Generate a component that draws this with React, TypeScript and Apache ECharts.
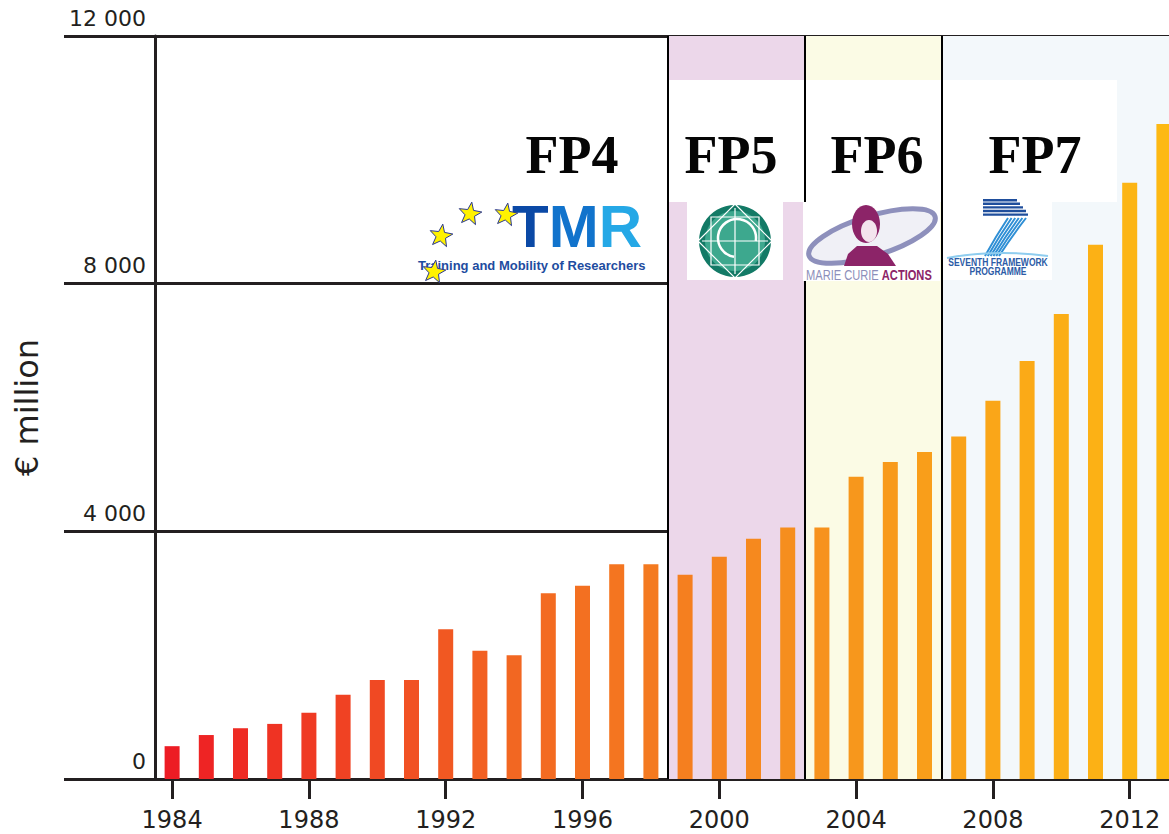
import React, { useEffect, useRef } from 'react';
import * as echarts from 'echarts';

// ---------- data ----------
const years = [
  '1984', '1985', '1986', '1987', '1988', '1989', '1990', '1991', '1992', '1993',
  '1994', '1995', '1996', '1997', '1998', '1999', '2000', '2001', '2002', '2003',
  '2004', '2005', '2006', '2007', '2008', '2009', '2010', '2011', '2012', '2013',
];
const budget = [
  530, 710, 820, 890, 1070, 1360, 1600, 1600, 2420, 2070,
  2000, 3000, 3120, 3470, 3470, 3300, 3590, 3880, 4060, 4060,
  4880, 5120, 5280, 5530, 6110, 6750, 7510, 8630, 9630, 10580,
];
const yTicks = [0, 4000, 8000, 12000];
const programmes = ['FP4', 'FP5', 'FP6', 'FP7'];
const programmeFirstYear = ['1994', '1999', '2003', '2007'];
const programmeLastYear = ['1998', '2002', '2006', '2013'];
const yAxisTitle = '€ million';
const tmrLetters = ['T', 'M', 'R'];
const tmrCaption = 'Training and Mobility of Researchers';
const mcaWords = ['MARIE CURIE ', 'ACTIONS'];
const fp7Caption = ['SEVENTH FRAMEWORK', 'PROGRAMME'];

// ---------- styles ----------
const INK = '#231f20';
const barRamp = ['#ed1c24', '#f26522', '#f7941d', '#fdb913'];
const bandColors = ['', '#ecd7ea', '#fbfbe5', '#f3f8fb'];
const headingX = [572, 731, 877, 1035];
const tmrColors = ['#0b49a6', '#1173cc', '#25a8e6'];

const fmtThousands = (v: number) => String(v).replace(/\B(?=(\d{3})+(?!\d))/g, ' ');

function starPts(cx: number, cy: number, r: number, rot = 0) {
  const pts: number[][] = [];
  for (let i = 0; i < 10; i++) {
    const a = -Math.PI / 2 + rot + (i * Math.PI) / 5;
    const rr = i % 2 ? r * 0.42 : r;
    pts.push([cx + rr * Math.cos(a), cy + rr * Math.sin(a)]);
  }
  return pts;
}

function txt(text: string, x: number, y: number, font: string, fill: string, align = 'center', vAlign = 'middle', extra: any = {}, styleExtra: any = {}) {
  return {
    type: 'text',
    x,
    y,
    z: 7,
    ...extra,
    style: {
      text,
      font,
      fill,
      align,
      verticalAlign: vAlign,
      textAlign: align,
      textVerticalAlign: vAlign,
      ...styleExtra,
    },
  };
}

function buildGraphics() {
  const g: any[] = [];
  const white = (x: number, y: number, w: number, h: number, z = 3) =>
    g.push({ type: 'rect', z, shape: { x, y, width: w, height: h }, style: { fill: '#ffffff' } });

  // white panels behind headings & logos
  white(668, 80, 449, 122);
  white(687, 202, 96, 78);
  white(943, 202, 109, 78);
  white(417, 200, 233, 81);
  white(803, 202, 137, 79, 6);

  // headings
  programmes.forEach((p, i) => {
    g.push(txt(p, headingX[i], 155, 'bold 54px "Liberation Serif", "Times New Roman", serif', '#050505', 'center', 'middle', {}, { lineHeight: 40 }));
  });

  // ---- TMR logo ----
  const tmrFont = '"Liberation Sans", Arial, sans-serif';
  const tmrRich: any = {};
  tmrLetters.forEach((l, i) => {
    tmrRich['l' + i] = { fontSize: 60, fontWeight: 'bold', fontFamily: tmrFont, lineHeight: 42, color: tmrColors[i], fill: tmrColors[i] };
  });
  g.push({
    type: 'text', x: 577, y: 226, z: 7,
    style: {
      text: tmrLetters.map((l, i) => `{l${i}|${l}}`).join(''),
      align: 'center', verticalAlign: 'middle', textAlign: 'center', textVerticalAlign: 'middle',
      rich: tmrRich,
    },
  });
  g.push(txt(tmrCaption, 418, 265, 'bold 13px "Liberation Sans", Arial, sans-serif', '#1e4ca0', 'left', 'middle', {}, { lineHeight: 12 }));
  [[441, 236], [470, 214], [506, 215], [434, 272]].forEach(([cx, cy]) => {
    g.push({ type: 'polygon', z: 8, shape: { points: starPts(cx, cy, 12, 0.15) }, style: { fill: '#fff200', stroke: '#2b3990', lineWidth: 1 } });
  });

  // ---- FP5 logo ----
  g.push({ type: 'circle', z: 7, shape: { cx: 735, cy: 241, r: 36 }, style: { fill: '#137a66' } });
  g.push({ type: 'circle', z: 7, shape: { cx: 735, cy: 241, r: 30 }, style: { fill: '#3da88e' } });
  const ws = { stroke: '#ffffff', lineWidth: 1.2, fill: 'none' };
  g.push({ type: 'polygon', z: 8, shape: { points: [[735, 204], [772, 241], [735, 278], [698, 241]] }, style: ws });
  g.push({ type: 'polygon', z: 8, shape: { points: [[711, 217], [759, 217], [759, 265], [711, 265]] }, style: ws });
  g.push({ type: 'line', z: 8, shape: { x1: 735, y1: 208, x2: 735, y2: 274 }, style: ws });
  g.push({ type: 'line', z: 8, shape: { x1: 702, y1: 241, x2: 768, y2: 241 }, style: ws });
  g.push({ type: 'arc', z: 8, shape: { cx: 737, cy: 238, r: 19, startAngle: Math.PI * 0.55, endAngle: Math.PI * 2.05 }, style: { stroke: '#ffffff', lineWidth: 2.5, fill: 'none' } });

  // ---- Marie Curie logo ----
  g.push({ type: 'ellipse', z: 7, x: 872, y: 236, rotation: 0.3, shape: { cx: 0, cy: 0, rx: 66, ry: 20 }, style: { fill: '#f0f0f6', stroke: '#8e90bc', lineWidth: 5 } });
  const mc = '#8c2468';
  g.push({ type: 'polygon', z: 8, shape: { points: [[844, 266], [848, 254], [857, 246], [877, 246], [888, 254], [896, 266]] }, style: { fill: mc } });
  g.push({ type: 'ellipse', z: 8, shape: { cx: 866, cy: 224, rx: 14, ry: 19 }, style: { fill: mc } });
  g.push({ type: 'ellipse', z: 8, shape: { cx: 869, cy: 231, rx: 8, ry: 11 }, style: { fill: '#f4e4ee' } });
  g.push({
    type: 'text', x: 806, y: 275, z: 8, scaleX: 0.74,
    style: {
      text: `{a|${mcaWords[0]}}{b|${mcaWords[1]}}`,
      align: 'left', verticalAlign: 'middle', textAlign: 'left', textVerticalAlign: 'middle',
      rich: {
        a: { fontSize: 15, lineHeight: 14, fontFamily: '"Liberation Sans", Arial, sans-serif', color: '#8d8fba', fill: '#8d8fba' },
        b: { fontSize: 15, lineHeight: 14, fontWeight: 'bold', fontFamily: '"Liberation Sans", Arial, sans-serif', color: mc, fill: mc },
      },
    },
  });

  // ---- FP7 logo ----
  const stripeW = [34, 37, 40, 43, 45];
  stripeW.forEach((w, i) => {
    g.push({ type: 'rect', z: 7, shape: { x: 983, y: 199 + i * 3.6, width: w, height: 2.4 }, style: { fill: '#1f4e9c' } });
  });
  for (let k = 0; k < 6; k++) {
    g.push({
      type: 'bezierCurve', z: 7,
      shape: { x1: 1008 + k * 3.6, y1: 218, cpx1: 996 + k * 3.2, cpy1: 236, x2: 985 + k * 2.8, y2: 256 },
      style: { stroke: '#2f8fd5', lineWidth: 2, fill: 'none' },
    });
  }
  g.push({ type: 'bezierCurve', z: 7, shape: { x1: 947, y1: 258, cpx1: 995, cpy1: 249, x2: 1048, y2: 256 }, style: { stroke: '#8fcdef', lineWidth: 2, fill: 'none' } });
  g.push(txt(fp7Caption[0], 998, 263, 'bold 10px "Liberation Sans", Arial, sans-serif', '#2c5ba6', 'center', 'middle', { scaleX: 0.85 }, { lineHeight: 9 }));
  g.push(txt(fp7Caption[1], 998, 272, 'bold 10px "Liberation Sans", Arial, sans-serif', '#2c5ba6', 'center', 'middle', { scaleX: 0.85 }, { lineHeight: 9 }));

  return g;
}

function buildOption(): any {
  const n = years.length;
  const bandAreas = programmes
    .map((p, i) => ({ i, c: bandColors[i] }))
    .filter((b) => b.c)
    .map(({ i, c }) => [
      { xAxis: years.indexOf(programmeFirstYear[i]) - 0.5, itemStyle: { color: c } },
      { xAxis: years.indexOf(programmeLastYear[i]) + 0.5 },
    ]);
  const boundaries = programmes
    .slice(1)
    .map((p, i) => ({ xAxis: years.indexOf(programmeFirstYear[i + 1]) - 0.5 }));

  return {
    animation: false,
    backgroundColor: '#ffffff',
    grid: [
      { left: 64, top: 36, width: 91, height: 743 },
      { left: 155, top: 36, width: 1026, height: 743 },
    ],
    xAxis: [
      { type: 'value', gridIndex: 0, show: false, min: 0, max: 1 },
      {
        type: 'category',
        gridIndex: 1,
        data: years,
        boundaryGap: true,
        axisLine: { show: true, onZero: false, lineStyle: { color: INK, width: 3 } },
        axisTick: { show: true, interval: 3, alignWithLabel: true, length: 20, lineStyle: { color: INK, width: 3 } },
        axisLabel: {
          interval: 3,
          margin: 29,
          fontSize: 24,
          lineHeight: 24,
          color: INK,
          fontFamily: '"DejaVu Sans", sans-serif',
        },
        splitLine: { show: false },
      },
      { type: 'value', gridIndex: 1, show: false, min: -0.5, max: n - 0.5 },
    ],
    yAxis: [
      {
        type: 'value', gridIndex: 0, min: yTicks[0], max: yTicks[yTicks.length - 1], interval: yTicks[1] - yTicks[0],
        axisLine: { show: false }, axisTick: { show: false }, axisLabel: { show: false },
        splitLine: { show: true, lineStyle: { color: INK, width: 3 } },
      },
      {
        type: 'value', gridIndex: 1, min: yTicks[0], max: yTicks[yTicks.length - 1], interval: yTicks[1] - yTicks[0],
        name: yAxisTitle,
        nameLocation: 'middle',
        nameRotate: 90,
        nameGap: 112,
        nameTextStyle: { fontSize: 32, color: INK, fontFamily: '"DejaVu Sans", sans-serif' },
        axisLine: { show: true, onZero: false, lineStyle: { color: INK, width: 3 } },
        axisTick: { show: false },
        axisLabel: {
          margin: 9,
          fontSize: 22,
          lineHeight: 36,
          verticalAlign: 'bottom',
          color: INK,
          fontFamily: '"DejaVu Sans", sans-serif',
          formatter: (v: number) => fmtThousands(v),
        },
        splitLine: { show: true, lineStyle: { color: INK, width: 3 } },
      },
    ],
    series: [
      {
        name: 'programmes',
        type: 'line',
        xAxisIndex: 2,
        yAxisIndex: 1,
        data: [],
        silent: true,
        markArea: { silent: true, data: bandAreas },
        markLine: {
          silent: true,
          symbol: 'none',
          label: { show: false },
          lineStyle: { color: '#000000', width: 2, type: 'solid' },
          data: boundaries,
        },
      },
      {
        name: yAxisTitle,
        type: 'bar',
        xAxisIndex: 1,
        yAxisIndex: 1,
        barWidth: 15,
        data: budget,
        itemStyle: {
          color: (p: any) => echarts.color.lerp(p.dataIndex / (n - 1), barRamp),
        },
      },
    ],
    graphic: buildGraphics(),
  };
}

export default function App() {
  const ref = useRef<HTMLDivElement>(null);
  useEffect(() => {
    if (!ref.current) return;
    const chart = echarts.init(ref.current, null, { renderer: 'svg' });
    chart.setOption(buildOption());
    return () => chart.dispose();
  }, []);
  return (
    <div
      ref={ref}
      style={{ position: 'fixed', left: 0, top: 0, width: 1200, height: 834, background: '#ffffff', overflow: 'hidden' }}
    />
  );
}
